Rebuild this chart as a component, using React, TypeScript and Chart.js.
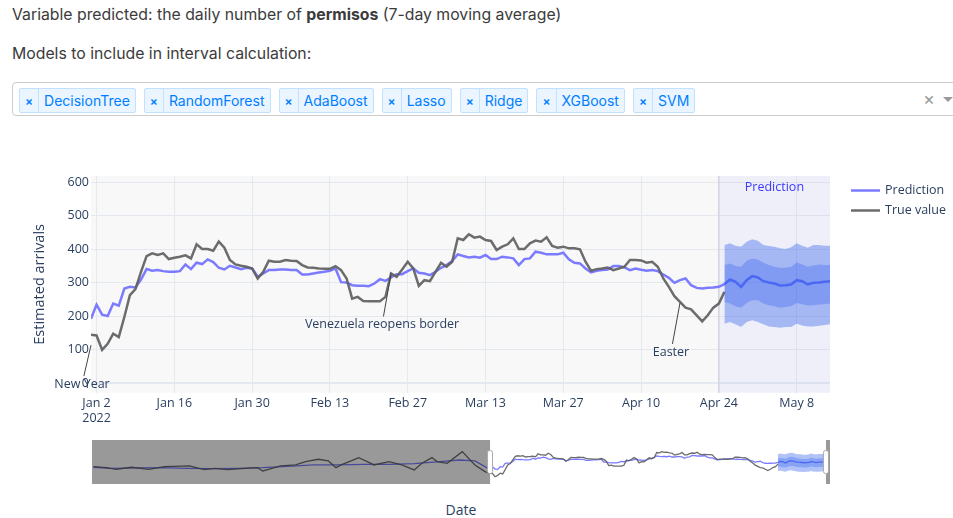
import React, { useEffect, useRef } from "react";
import { Chart, registerables } from "chart.js";

Chart.register(...registerables);

// ---------- data ----------
// day index 0 = 2022-01-01
const trueValues = [
  145, 143, 100, 118, 148, 138, 198, 263, 281, 333, 380, 388, 383, 388, 371, 375, 378, 382, 373, 415,
  401, 401, 396, 423, 405, 368, 355, 351, 348, 343, 313, 333, 366, 363, 363, 368, 366, 365, 353, 346,
  345, 343, 342, 342, 350, 338, 313, 253, 258, 246, 245, 245, 245, 258, 328, 318, 340, 363, 343, 291,
  308, 305, 333, 360, 348, 363, 433, 428, 445, 435, 438, 428, 425, 398, 408, 415, 433, 401, 401, 418,
  426, 423, 436, 410, 405, 408, 403, 403, 400, 363, 336, 341, 343, 346, 338, 343, 348, 368, 368, 367,
  360, 363, 348, 313, 288, 260, 243, 226, 221, 203, 185, 203, 226, 238, 273,
];

const predValues = [
  193, 235, 205, 201, 238, 232, 283, 288, 286, 310, 341, 336, 338, 335, 333, 333, 335, 355, 341, 360,
  356, 370, 362, 345, 340, 351, 346, 341, 345, 343, 318, 328, 338, 338, 340, 340, 338, 338, 325, 325,
  328, 331, 333, 336, 343, 302, 301, 293, 291, 291, 290, 298, 311, 306, 316, 326, 326, 335, 343, 330,
  328, 323, 333, 345, 353, 365, 385, 380, 376, 378, 375, 383, 371, 371, 378, 376, 373, 353, 371, 373,
  393, 390, 385, 385, 385, 390, 370, 360, 358, 343, 331, 336, 338, 340, 350, 350, 346, 338, 343, 339,
  336, 338, 335, 325, 315, 300, 308, 313, 293, 285, 283, 285, 286, 288, 296, 310, 303, 288, 308, 320,
  316, 305, 301, 298, 292, 293, 295, 308, 305, 295, 300, 301, 303, 305,
];

const bandStartDay = 114;
const outerUpper = [413, 418, 411, 408, 423, 430, 426, 413, 410, 408, 403, 401, 406, 418, 411, 405, 413, 413, 411, 411];
const innerUpper = [353, 358, 350, 348, 366, 373, 370, 360, 353, 348, 345, 345, 348, 361, 355, 348, 352, 355, 353, 353];
const innerLower = [243, 238, 230, 226, 240, 248, 248, 238, 233, 230, 226, 228, 230, 240, 236, 232, 233, 235, 236, 238];
const outerLower = [178, 183, 176, 168, 183, 188, 183, 176, 170, 168, 166, 168, 168, 178, 173, 170, 170, 172, 174, 176];

// earlier history, only visible in the range slider
const earlyTrueDays = [-157, -152, -148, -142, -135, -129, -119, -116, -113, -109, -104, -97, -92, -90, -87, -83, -77, -73, -68, -64, -61, -59, -55, -52, -48, -46, -40, -35, -30, -27, -23, -21, -17, -11, -6, -2];
const earlyTrue = [239, 225, 202, 230, 202, 239, 248, 221, 198, 216, 198, 216, 225, 179, 207, 248, 262, 308, 340, 317, 225, 262, 317, 363, 298, 262, 308, 262, 193, 285, 363, 308, 285, 445, 262, 170];
const earlyPredDays = [-157, -150, -140, -130, -120, -110, -100, -90, -80, -70, -60, -50, -40, -30, -20, -12, -6, -2];
const earlyPred = [230, 216, 221, 225, 216, 211, 216, 225, 243, 262, 262, 271, 271, 280, 308, 330, 317, 239];

const tickDays = [1, 15, 29, 43, 57, 71, 85, 99, 113, 127];
const tickLabels: (string | string[])[] = [["Jan 2", "2022"], "Jan 16", "Jan 30", "Feb 13", "Feb 27", "Mar 13", "Mar 27", "Apr 10", "Apr 24", "May 8"];
const yTicks = [0, 100, 200, 300, 400, 500, 600];
const predictionStartDay = 113;

const annotations = [
  { day: 0, value: 114, text: "New Year", dx: -9, dy: 39 },
  { day: 54, value: 328, text: "Venezuela reopens border", dx: -9, dy: 51 },
  { day: 106, value: 240, text: "Easter", dx: -9, dy: 49 },
];

const models = ["DecisionTree", "RandomForest", "AdaBoost", "Lasso", "Ridge", "XGBoost", "SVM"];

// ---------- styles ----------
const FONT = '"Open Sans", "Liberation Sans", sans-serif';
const TEXT = "#2a3f5f";
const GRID = "#e4e8ef";
const PRED_COLOR = "#7b7bff";
const TRUE_COLOR = "rgba(95,95,95,0.92)";
const OUTER_FILL = "rgba(40,90,235,0.37)";
const INNER_FILL = "rgba(40,90,235,0.30)";

const pts = (start: number, vals: number[]) => vals.map((v, i) => ({ x: start + i, y: v }));
const ptsXY = (days: number[], vals: number[]) => days.map((d, i) => ({ x: d, y: vals[i] }));

function buildDatasets(thin: boolean, includeEarly: boolean): any[] {
  const w = thin ? 1.3 : 2.5;
  const trueData = [...(includeEarly ? ptsXY(earlyTrueDays, earlyTrue) : []), ...pts(0, trueValues)];
  const predData = [...(includeEarly ? ptsXY(earlyPredDays, earlyPred) : []), ...pts(0, predValues)];
  const band = { borderWidth: 0, borderColor: "transparent", pointRadius: 0, tension: 0 };
  return [
    { label: "True value", data: trueData, borderColor: TRUE_COLOR, borderWidth: w, pointRadius: 0, tension: 0, fill: false, order: 0 },
    { label: "outerUpper", data: pts(bandStartDay, outerUpper), ...band, fill: 2, backgroundColor: OUTER_FILL, order: 2 },
    { label: "outerLower", data: pts(bandStartDay, outerLower), ...band, fill: false, order: 2 },
    { label: "innerUpper", data: pts(bandStartDay, innerUpper), ...band, fill: 4, backgroundColor: INNER_FILL, order: 1 },
    { label: "innerLower", data: pts(bandStartDay, innerLower), ...band, fill: false, order: 1 },
    { label: "Prediction", data: predData, borderColor: PRED_COLOR, borderWidth: w, pointRadius: 0, tension: 0, fill: false, order: 5 },
  ];
}

const mainDecor = {
  id: "mainDecor",
  beforeDraw(chart: any) {
    const { ctx, chartArea: a } = chart;
    ctx.save();
    ctx.fillStyle = "#f8f8f9";
    ctx.fillRect(a.left, a.top, a.right - a.left, a.bottom - a.top);
    ctx.restore();
  },
  beforeDatasetsDraw(chart: any) {
    const { ctx, chartArea: a } = chart;
    const xs = chart.scales.x.getPixelForValue(predictionStartDay);
    ctx.save();
    ctx.fillStyle = "rgba(70,70,255,0.05)";
    ctx.fillRect(xs, a.top, a.right - xs, a.bottom - a.top);
    ctx.strokeStyle = "#d3d5df";
    ctx.lineWidth = 1.5;
    ctx.beginPath();
    ctx.moveTo(xs, a.top);
    ctx.lineTo(xs, a.bottom);
    ctx.stroke();
    ctx.fillStyle = "#3a3aff";
    ctx.font = `12.5px ${FONT}`;
    ctx.textAlign = "center";
    ctx.textBaseline = "middle";
    ctx.fillText("Prediction", (xs + a.right) / 2, a.top + 11);
    ctx.restore();
  },
  afterDraw(chart: any) {
    const { ctx, chartArea: a } = chart;
    const xScale = chart.scales.x;
    const yScale = chart.scales.y;
    ctx.save();
    // annotations
    ctx.font = `12.5px ${FONT}`;
    ctx.textAlign = "center";
    ctx.textBaseline = "middle";
    for (const an of annotations) {
      const tx = xScale.getPixelForValue(an.day);
      const ty = yScale.getPixelForValue(an.value);
      const cx = tx + an.dx;
      const cy = ty + an.dy;
      const t = 8 / an.dy;
      const sx = cx + (tx - cx) * t;
      const sy = cy + (ty - cy) * t;
      ctx.strokeStyle = "#444";
      ctx.lineWidth = 1;
      ctx.beginPath();
      ctx.moveTo(sx, sy);
      ctx.lineTo(tx, ty);
      ctx.stroke();
      ctx.fillStyle = TEXT;
      ctx.fillText(an.text, cx, cy);
    }
    // legend
    const items: [string, string][] = [["Prediction", PRED_COLOR], ["True value", TRUE_COLOR]];
    items.forEach(([label, color], i) => {
      const y = a.top + 14.5 + i * 20;
      ctx.strokeStyle = color;
      ctx.lineWidth = 2.5;
      ctx.beginPath();
      ctx.moveTo(a.right + 21, y);
      ctx.lineTo(a.right + 50, y);
      ctx.stroke();
      ctx.fillStyle = TEXT;
      ctx.textAlign = "left";
      ctx.fillText(label, a.right + 55, y);
    });
    // y title
    ctx.translate(40, (a.top + a.bottom) / 2);
    ctx.rotate(-Math.PI / 2);
    ctx.textAlign = "center";
    ctx.font = `14.5px ${FONT}`;
    ctx.fillStyle = TEXT;
    ctx.fillText("Estimated arrivals", 0, 0);
    ctx.restore();
  },
};

const sliderDecor = {
  id: "sliderDecor",
  afterDatasetsDraw(chart: any) {
    const { ctx, chartArea: a } = chart;
    const x0 = chart.scales.x.getPixelForValue(0);
    const x1 = chart.scales.x.getPixelForValue(133);
    ctx.save();
    ctx.fillStyle = "rgba(0,0,0,0.4)";
    ctx.fillRect(a.left, a.top, x0 - a.left, a.bottom - a.top);
    ctx.fillRect(x1, a.top, a.right - x1, a.bottom - a.top);
    const hy = (a.top + a.bottom) / 2;
    for (const hx of [x0, x1]) {
      ctx.fillStyle = "#fff";
      ctx.strokeStyle = "#aaa";
      ctx.lineWidth = 1;
      ctx.beginPath();
      (ctx as any).roundRect(hx - 2.5, hy - 11.5, 5, 23, 2);
      ctx.fill();
      ctx.stroke();
    }
    ctx.restore();
  },
};

export default function App() {
  const mainRef = useRef<HTMLCanvasElement | null>(null);
  const sliderRef = useRef<HTMLCanvasElement | null>(null);

  useEffect(() => {
    const main = new Chart(mainRef.current as HTMLCanvasElement, {
      type: "line",
      data: { datasets: buildDatasets(false, false) },
      options: {
        animation: false,
        responsive: false,
        maintainAspectRatio: false,
        devicePixelRatio: 1,
        events: [],
        layout: { padding: { left: 0, top: 16, right: 123, bottom: 0 } },
        plugins: { legend: { display: false }, tooltip: { enabled: false }, title: { display: false } },
        scales: {
          x: {
            type: "linear",
            min: 0,
            max: 133,
            afterBuildTicks: (s: any) => {
              s.ticks = tickDays.map((v) => ({ value: v }));
            },
            afterFit: (s: any) => {
              s.height = 47.3;
            },
            grid: { color: GRID, drawTicks: false, lineWidth: 1 },
            border: { display: false },
            ticks: {
              autoSkip: false,
              maxRotation: 0,
              padding: 3,
              color: TEXT,
              font: { family: FONT, size: 12.5 },
              callback: (_v: any, i: number) => tickLabels[i],
            },
          },
          y: {
            type: "linear",
            min: -28,
            max: 619,
            afterBuildTicks: (s: any) => {
              s.ticks = yTicks.map((v) => ({ value: v }));
            },
            afterFit: (s: any) => {
              s.width = 91;
            },
            grid: {
              color: GRID,
              drawTicks: false,
              lineWidth: (c: any) => (c.tick && c.tick.value === 0 ? 2 : 1),
            },
            border: { display: false },
            ticks: {
              padding: 2,
              color: TEXT,
              font: { family: FONT, size: 12.5 },
              callback: (v: any) => String(v),
            },
          },
        },
      } as any,
      plugins: [mainDecor],
    });

    const slider = new Chart(sliderRef.current as HTMLCanvasElement, {
      type: "line",
      data: { datasets: buildDatasets(true, true) },
      options: {
        animation: false,
        responsive: false,
        maintainAspectRatio: false,
        devicePixelRatio: 1,
        events: [],
        layout: { padding: 0 },
        plugins: { legend: { display: false }, tooltip: { enabled: false }, title: { display: false } },
        scales: {
          x: { type: "linear", min: -157.6, max: 134.6, display: false },
          y: { type: "linear", min: 0, max: 605, display: false },
        },
      } as any,
      plugins: [sliderDecor],
    });

    return () => {
      main.destroy();
      slider.destroy();
    };
  }, []);

  const tagBorder = "1px solid #c2e0ff";

  return (
    <div
      style={{
        position: "absolute",
        left: 0,
        top: 0,
        width: 953,
        height: 518,
        overflow: "hidden",
        background: "#fff",
        fontFamily: "Inter, 'Noto Sans', sans-serif",
      }}
    >
      <div style={{ position: "absolute", left: 12, top: 5, fontSize: 15.8, lineHeight: "20px", color: "#3b3b3b", whiteSpace: "nowrap" }}>
        Variable predicted: the daily number of <b>permisos</b> (7-day moving average)
      </div>
      <div style={{ position: "absolute", left: 12, top: 44, fontSize: 15.8, lineHeight: "20px", color: "#3b3b3b", whiteSpace: "nowrap" }}>
        Models to include in interval calculation:
      </div>
      <div
        style={{
          position: "absolute",
          left: 12,
          top: 82,
          width: 970,
          height: 34,
          boxSizing: "border-box",
          border: "1px solid #ccc",
          borderRadius: 4,
          background: "#fff",
        }}
      >
        <div style={{ position: "absolute", left: 6, top: 5, display: "flex", gap: 8 }}>
          {models.map((m) => (
            <div
              key={m}
              style={{
                display: "flex",
                height: 25,
                boxSizing: "border-box",
                border: tagBorder,
                borderRadius: 2,
                background: "#ebf5ff",
                color: "#007eff",
                fontSize: 14,
                lineHeight: "23px",
              }}
            >
              <span style={{ padding: "0 5px", borderRight: tagBorder, fontSize: 12, fontWeight: 600 }}>×</span>
              <span style={{ padding: "0 5px" }}>{m}</span>
            </div>
          ))}
        </div>
        <div style={{ position: "absolute", left: 910, top: 5, fontSize: 18, lineHeight: "22px", color: "#999" }}>×</div>
        <div
          style={{
            position: "absolute",
            left: 930,
            top: 14,
            width: 0,
            height: 0,
            borderLeft: "5px solid transparent",
            borderRight: "5px solid transparent",
            borderTop: "5px solid #999",
          }}
        />
      </div>
      <canvas ref={mainRef} width={953} height={280} style={{ position: "absolute", left: 0, top: 160, width: 953, height: 280 }} />
      <canvas ref={sliderRef} width={738} height={44} style={{ position: "absolute", left: 92, top: 440, width: 738, height: 44 }} />
      <div style={{ position: "absolute", left: 411, width: 100, top: 500, textAlign: "center", fontFamily: FONT, fontSize: 14, lineHeight: "20px", color: TEXT }}>
        Date
      </div>
    </div>
  );
}
